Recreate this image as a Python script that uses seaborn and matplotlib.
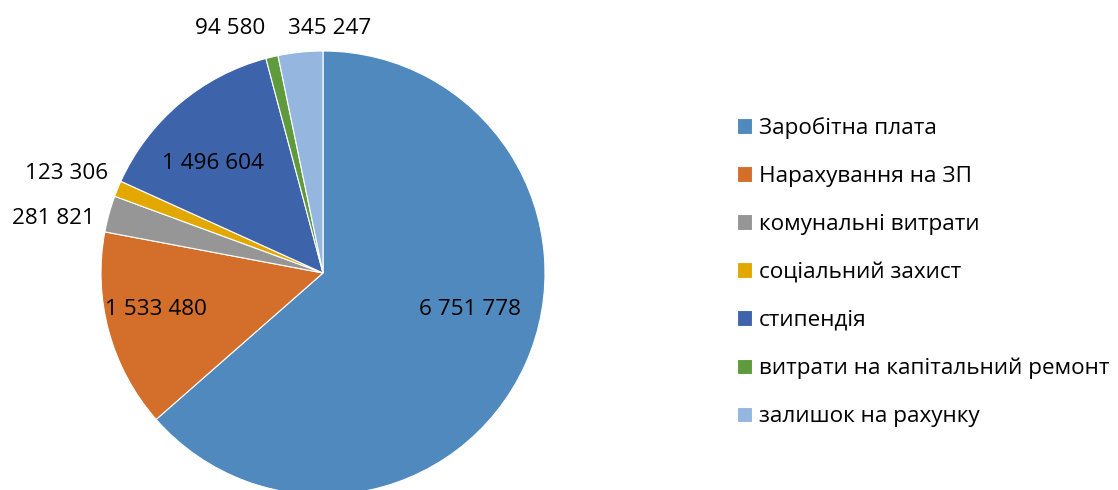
import matplotlib
matplotlib.use("Agg")
import matplotlib.pyplot as plt
import seaborn as sns
import numpy as np

sns.set_theme(style="white")
plt.rcParams['font.family'] = ['Open Sans', 'DejaVu Sans']

categories = ["Заробітна плата", "Нарахування на ЗП", "комунальні витрати",
              "соціальний захист", "стипендія", "витрати на капітальний ремонт",
              "залишок на рахунку"]
values = [6751778, 1533480, 281821, 123306, 1496604, 94580, 345247]
value_labels = ["6 751 778", "1 533 480", "281 821", "123 306", "1 496 604", "94 580", "345 247"]
colors = ["#4F89BD", "#D46E2B", "#969696", "#E3A800", "#3D64AB", "#5F9A3C", "#95B6DF"]

# label placement (polar: angle in degrees, radius factor)
label_pos = [(-13.8, 0.68), (-167.8, 0.77), (168.5, 1.24), (158.9, 1.24),
             (135.3, 0.70), (110.8, 1.18), (88.4, 1.10)]

FS = 16.2
W, H = 1118, 490
fig = plt.figure(figsize=(W / 100, H / 100), dpi=100)
cx, cy, R = 323, 273, 222
ax = fig.add_axes([(cx - R) / W, (H - cy - R) / H, 2 * R / W, 2 * R / H])
wedges, _ = ax.pie(values, colors=colors, startangle=90, counterclock=False,
                   radius=1, wedgeprops=dict(edgecolor="white", linewidth=0.8))
for w in wedges:
    w.set_clip_on(False)
ax.set_xlim(-1, 1)
ax.set_ylim(-1, 1)
ax.set_aspect("auto")
ax.axis("off")

for txt, (ang, r) in zip(value_labels, label_pos):
    a = np.deg2rad(ang)
    ax.text(r * np.cos(a), r * np.sin(a), txt, ha="center", va="center",
            fontsize=FS, color="#000000", clip_on=False)

leg = fig.legend(wedges, categories, loc="upper left",
                 bbox_to_anchor=(737 / W, 1 - 117 / H), frameon=False,
                 fontsize=FS, handlelength=0.68, handleheight=0.68,
                 handletextpad=0.28, labelspacing=1.2, borderaxespad=0,
                 borderpad=0, labelcolor="#000000")

fig.savefig("out.png", dpi=100)
